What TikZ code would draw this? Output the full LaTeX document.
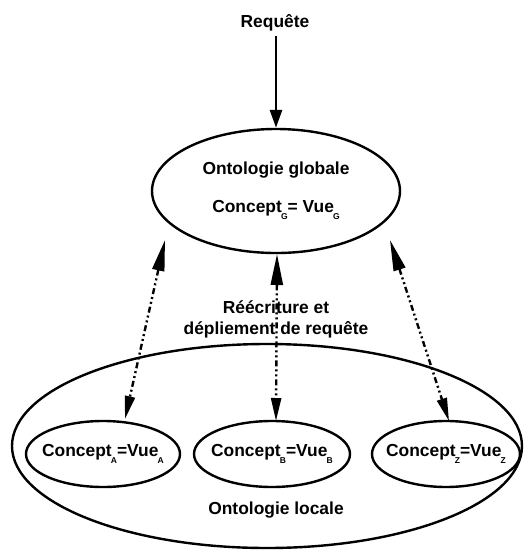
\documentclass[tikz,border=0pt]{standalone}
\usepackage{fontspec}
\setmainfont{Liberation Sans}
\usetikzlibrary{arrows.meta,shapes.geometric}
\newcommand{\sub}[1]{\kern-0.8pt\raisebox{-0.8ex}{\fontsize{8.5}{9}\selectfont #1}}
\tikzset{
  lbl/.style={font=\fontsize{17.4}{21}\selectfont\bfseries, align=center, inner sep=0pt},
  oval/.style={draw, ellipse, line width=2.4pt, inner sep=0pt},
  tip/.style={-{Triangle[length=18pt,width=12pt]}},
  link/.style={line width=2.4pt, dash pattern=on 6pt off 3pt on 2pt off 3pt on 2pt off 3pt,
    {Triangle[length=31pt,width=12pt]}-{Triangle[length=23pt,width=10pt]}},
}
\begin{document}
\begin{tikzpicture}[x=1pt,y=-1pt]
\useasboundingbox (0,0) rectangle (528,550);
% global ontology
\node[oval, minimum width=248pt, minimum height=124pt] (glob) at (276,191) {};
\node[lbl] (gt1) at (276,170) {Ontologie globale};
\node[lbl] (gt2) at (276,210) {Concept\sub{G}= Vue\sub{G}};
% query
\node[lbl] (req) at (275,23) {Requête};
\coordinate (reqs) at (276,36);
\draw[line width=2.8pt, tip] (reqs) -- (glob.north);
% local ontology
\node[oval, minimum width=510pt, minimum height=204pt] (loc) at (267,446) {};
\node[lbl] (lt) at (276,510) {Ontologie locale};
\node[oval, minimum width=154pt, minimum height=66pt] (ca) at (103,454) {};
\node[lbl] at (103,454) {Concept\sub{A}=Vue\sub{A}};
\node[oval, minimum width=156pt, minimum height=66pt] (cb) at (272,454) {};
\node[lbl] at (272,454) {Concept\sub{B}=Vue\sub{B}};
\node[oval, minimum width=148pt, minimum height=66pt] (cz) at (446,454) {};
\node[lbl] at (446,454) {Concept\sub{Z}=Vue\sub{Z}};
% rewriting links
\coordinate (ga) at (165,240);
\coordinate (gb) at (277,254);
\coordinate (gz) at (390,240);
\coordinate (la) at (125,419);
\coordinate (lb) at (276,421);
\coordinate (lz) at (449,421);
\draw[link] (ga) -- (la);
\draw[link] (gb) -- (lb);
\draw[link] (gz) -- (lz);
\node[lbl] (rw) at (276,319) {Réécriture et\\dépliement de requête};
\end{tikzpicture}
\end{document}
